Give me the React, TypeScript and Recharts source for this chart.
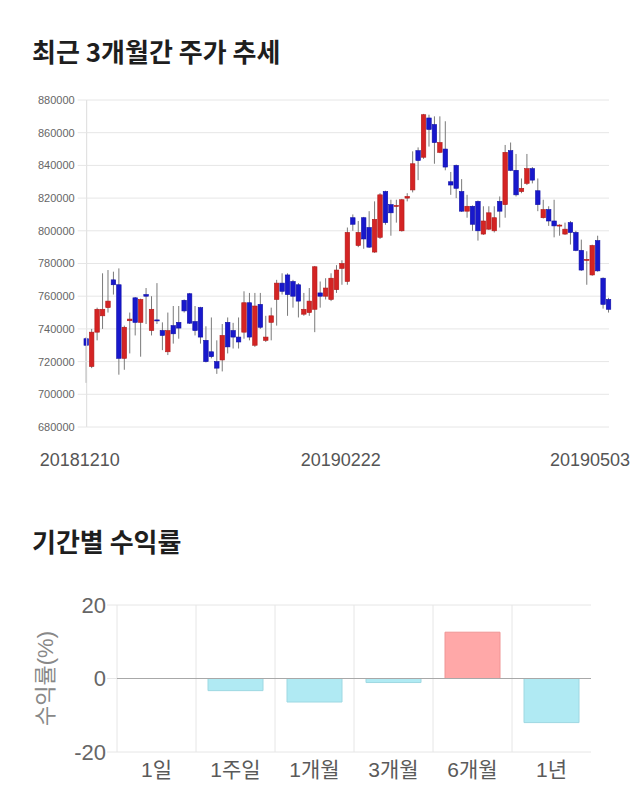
import React from 'react';
import { ComposedChart, BarChart, Bar, XAxis, YAxis, CartesianGrid, Cell, ReferenceLine } from 'recharts';

const opens = [
  734000, 717000, 738000, 748000, 753000, 770000, 767000, 722000, 745000, 759000,
  744000, 761000, 739000, 745500, 739000, 726000, 742000, 744000, 757500, 761500,
  744500, 753000, 733000, 726000, 720000, 721000, 744000, 739000, 735000, 738000,
  756000, 730000, 755000, 733000, 744000, 758000, 768000, 773000, 769000, 767000,
  749000, 750000, 752000, 762000, 760000, 758000, 764000, 777000, 769000, 808000,
  791000, 808000, 802000, 787000, 796000, 824000, 816000, 815000, 800000, 820000,
  825000, 849000, 845000, 869000, 865000, 848000, 850000, 830000, 840000, 824000,
  812000, 815000, 818000, 798000, 801000, 800000, 818000, 816000, 849000, 837000,
  824000, 829000, 838000, 824500, 808000, 813000, 806000, 803000, 798000, 805000,
  799000, 788000, 782000, 773000, 794000, 771000, 758000,
];
const closes = [
  730000, 738000, 752000, 752000, 757000, 767000, 722000, 741000, 746000, 744000,
  758000, 760000, 752000, 745000, 736000, 739000, 737000, 740500, 751000, 743500,
  739000, 735000, 720000, 723000, 716000, 736000, 729000, 735000, 732000, 756000,
  735000, 754000, 741000, 735000, 748000, 768000, 763000, 761000, 760000, 757000,
  752000, 757000, 778000, 760000, 765000, 771000, 776000, 780000, 799000, 804000,
  799000, 795000, 790000, 807000, 822000, 805000, 811000, 815500, 819000, 821000,
  841000, 843000, 871000, 862000, 854000, 854000, 839000, 828000, 826000, 812000,
  815000, 804000, 800000, 806000, 811000, 808000, 812000, 848000, 837000, 822000,
  826000, 838000, 831000, 816000, 813000, 806000, 803000, 803500, 801000, 799000,
  788000, 776000, 782500, 791000, 775500, 755000, 752000,
];
const highs = [
  735000, 740000, 753000, 774000, 776000, 775000, 777000, 742000, 750000, 759500,
  758500, 765000, 760000, 768000, 744000, 750000, 754000, 754000, 758000, 762000,
  754000, 753500, 741600, 747000, 733000, 743000, 747000, 743700, 747000, 763000,
  762000, 762000, 762000, 748000, 753000, 770000, 774000, 774000, 770000, 768000,
  762000, 765000, 778500, 769000, 771000, 774000, 779000, 782000, 802000, 810000,
  806000, 808500, 812000, 818000, 823000, 824500, 819000, 819000, 819500, 823000,
  848600, 851000, 871500, 871000, 870000, 870000, 867000, 836000, 840500, 831600,
  822000, 815500, 818500, 815000, 815000, 815000, 821000, 852500, 854000, 847000,
  832000, 847000, 839000, 832000, 819000, 815000, 819000, 804000, 805000, 806000,
  800000, 794600, 787500, 791500, 797000, 771500, 759000,
];
const lows = [
  707000, 716000, 733000, 740000, 750000, 761000, 712000, 715000, 725000, 736000,
  723000, 743000, 736000, 743000, 727000, 724000, 731000, 734000, 750000, 743000,
  736000, 731000, 719500, 722000, 712500, 714000, 725000, 728000, 728000, 734000,
  733000, 729000, 740000, 732000, 733000, 742000, 761000, 748000, 753000, 747000,
  748000, 748000, 738000, 753000, 758000, 757000, 762000, 767000, 767000, 800000,
  790000, 789000, 789500, 786500, 795000, 803700, 797000, 805000, 799500, 818000,
  823500, 831000, 844000, 851500, 841000, 847500, 837000, 822000, 820000, 811500,
  808000, 800000, 794000, 797500, 800500, 799000, 802000, 808000, 836500, 821000,
  823000, 828000, 829000, 812000, 807500, 803000, 796000, 797000, 797500, 791600,
  787500, 775500, 767000, 772500, 775000, 752400, 750000,
];
const dateTickIndex = [0, 48, 96];
const dateTickLabels = ['20181210', '20190222', '20190503'];
const priceTicks = [680000, 700000, 720000, 740000, 760000, 780000, 800000, 820000, 840000, 860000, 880000];

const periods = ['1일', '1주일', '1개월', '3개월', '6개월', '1년'];
const returns = [0, -3.3, -6.4, -1.1, 12.6, -12.0];
const returnTicks = [-20, 0, 20];

const candles = opens.map((o, i) => ({
  idx: i,
  open: o,
  close: closes[i],
  high: highs[i],
  low: lows[i],
}));

const returnData = periods.map((p, i) => ({ period: p, value: returns[i] }));

const AXIS_FONT = "'Liberation Sans', Arial, 'Noto Sans CJK KR', sans-serif";
const TITLE_FONT = "'Noto Sans CJK KR', 'Noto Sans', sans-serif";

const Candle = (props: any) => {
  const { x, y, width, height, payload } = props;
  if (!payload) return null;
  const { open, close, high, low } = payload;
  const top = Math.min(y, y + height);
  const h = Math.abs(height);
  const range = high - low || 1;
  const py = (v: number) => top + ((high - v) / range) * h;
  const up = close >= open;
  const bodyTop = py(Math.max(open, close));
  const bodyH = Math.max(1, py(Math.min(open, close)) - bodyTop);
  const cx = x + width / 2;
  return (
    <g>
      <line x1={cx} x2={cx} y1={top} y2={top + h} stroke="#7a7a7a" strokeWidth={1} />
      <rect
        x={x}
        y={bodyTop}
        width={width}
        height={bodyH}
        fill={up ? '#d42424' : '#1818cc'}
        stroke={up ? '#b01818' : '#0e0ea6'}
        strokeWidth={0.6}
      />
    </g>
  );
};

const DateTick = (props: any) => {
  const { x, y, index } = props;
  const last = index === dateTickLabels.length - 1;
  const dx = last ? -19 : -7;
  return (
    <text
      x={x + dx}
      y={y + 39}
      textAnchor="middle"
      fontSize={18}
      fill="#555"
      fontFamily={AXIS_FONT}
    >
      {dateTickLabels[index]}
    </text>
  );
};

const titleStyle: React.CSSProperties = {
  position: 'absolute',
  left: 32,
  fontFamily: TITLE_FONT,
  fontWeight: 700,
  fontSize: 26,
  lineHeight: '26px',
  color: '#1e1e1e',
  whiteSpace: 'nowrap',
};

export default function App() {
  return (
    <div style={{ position: 'absolute', left: 0, top: 0, width: 640, height: 810, background: '#fff', overflow: 'hidden' }}>
      <div style={{ ...titleStyle, top: 38 }}>최근 3개월간 주가 추세</div>
      <div style={{ position: 'absolute', left: 0, top: 0 }}>
        <ComposedChart
          width={640}
          height={480}
          data={candles}
          margin={{ top: 100, right: 31, bottom: 0, left: 0 }}
        >
          <CartesianGrid vertical={false} stroke="#e6e6e6" />
          <XAxis
            type="number"
            dataKey="idx"
            domain={[0, 96]}
            ticks={dateTickIndex}
            interval={0}
            height={53}
            axisLine={false}
            tickLine={false}
            tickSize={0}
            tickMargin={0}
            tick={<DateTick />}
          />
          <YAxis
            domain={[680000, 880000]}
            ticks={priceTicks}
            interval={0}
            width={86.7}
            axisLine={{ stroke: '#dcdcdc' }}
            tickLine={{ stroke: '#e6e6e6' }}
            tickSize={9}
            tickMargin={3}
            tick={{ fontSize: 11, fill: '#666', fontFamily: AXIS_FONT }}
          />
          <Bar
            dataKey={(d: any) => [d.low, d.high]}
            shape={<Candle />}
            barSize={4.5}
            isAnimationActive={false}
          />
        </ComposedChart>
      </div>

      <div style={{ ...titleStyle, top: 528 }}>기간별 수익률</div>
      <div style={{ position: 'absolute', left: 0, top: 560 }}>
        <BarChart
          width={640}
          height={250}
          data={returnData}
          margin={{ top: 45, right: 49, bottom: 18, left: 0 }}
        >
          <CartesianGrid
            stroke="#e6e6e6"
            verticalCoordinatesGenerator={({ offset }: any) =>
              periods.map((_, i) => offset.left + (i * offset.width) / periods.length)
            }
          />
          <XAxis
            dataKey="period"
            interval={0}
            height={40}
            axisLine={false}
            tickLine={false}
            tickSize={0}
            tickMargin={10}
            tick={{ fontSize: 21, fill: '#5a5a5a', fontFamily: AXIS_FONT }}
          />
          <YAxis
            domain={[-20, 20]}
            ticks={returnTicks}
            interval={0}
            width={117}
            axisLine={false}
            tickLine={{ stroke: '#e6e6e6' }}
            tickSize={10}
            tickMargin={1}
            tick={{ fontSize: 22, fill: '#666', fontFamily: AXIS_FONT }}
            label={{
              value: '수익률(%)',
              angle: -90,
              position: 'insideLeft',
              offset: 45,
              style: { textAnchor: 'middle', fontSize: 22, fill: '#888', fontFamily: AXIS_FONT },
            }}
          />
          <ReferenceLine y={0} stroke="#a8a8a8" />
          <Bar dataKey="value" barSize={55} isAnimationActive={false}>
            {returnData.map((d, i) => (
              <Cell
                key={i}
                fill={d.value >= 0 ? '#ffa8a8' : '#b0eaf3'}
                stroke={d.value >= 0 ? '#f09494' : '#9ed8e2'}
              />
            ))}
          </Bar>
        </BarChart>
      </div>
    </div>
  );
}
